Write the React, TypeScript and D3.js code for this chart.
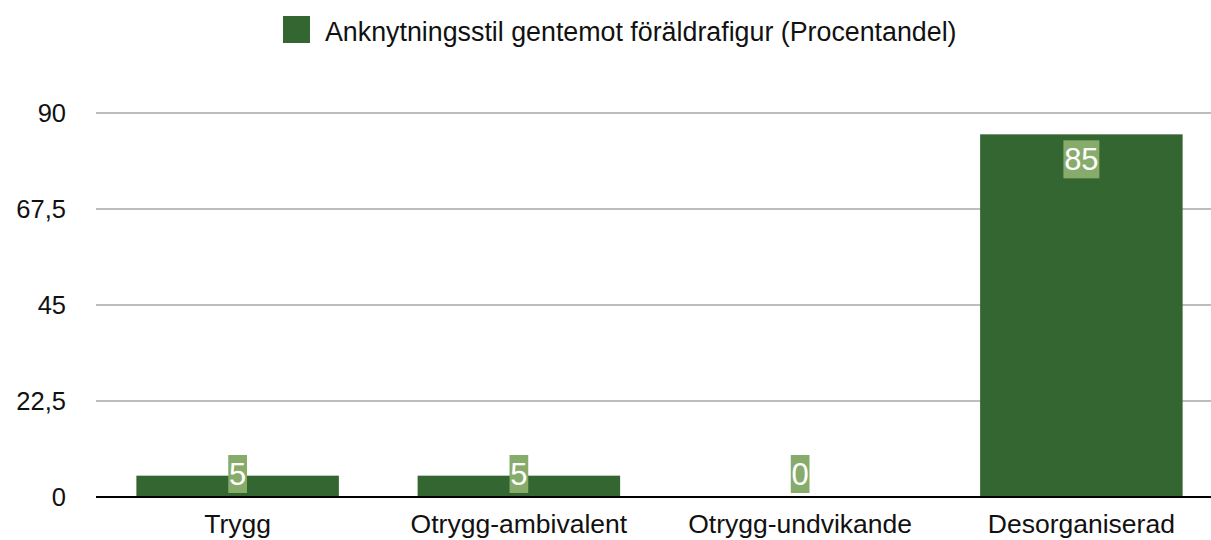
import React from "react";
import * as d3 from "d3";

const categories = ["Trygg", "Otrygg-ambivalent", "Otrygg-undvikande", "Desorganiserad"];
const values = [5, 5, 0, 85];
const yTicks = [0, 22.5, 45, 67.5, 90];
const seriesName = "Anknytningsstil gentemot föräldrafigur (Procentandel)";

const W = 1211;
const H = 540;
const FONT = "'Liberation Sans', Arial, Helvetica, sans-serif";
const BAR = "#336630";
const LABEL_BG = "#87ab6b";

export default function App() {
  const x = d3.scaleBand<string>().domain(categories).range([97, 1222]).paddingInner(0.28).paddingOuter(0.14);
  const y = d3.scaleLinear().domain([0, 90]).range([497, 113]);
  const fmt = (v: number) => String(v).replace(".", ",");
  const lfs = 31;

  return (
    <svg width={W} height={H} style={{ position: "absolute", left: 0, top: 0 }} fontFamily={FONT}>
      <rect x={0} y={0} width={W} height={H} fill="#fff" />
      {/* legend */}
      <rect x={283} y={16} width={27} height={27} fill={BAR} />
      <text x={325} y={41} fontSize={26.8} fill="#111">{seriesName}</text>
      {/* grid */}
      {yTicks.map((t) => (
        <g key={t}>
          {t !== 0 && <line x1={96} x2={W} y1={y(t)} y2={y(t)} stroke="#bdbdbd" strokeWidth={2} />}
          <text x={66} y={y(t)} dy="0.35em" textAnchor="end" fontSize={25.5} fill="#111">{fmt(t)}</text>
        </g>
      ))}
      {/* bars */}
      {categories.map((c, i) => {
        const v = values[i];
        const bx = x(c)!;
        return (
          <rect key={c} x={bx} y={y(v)} width={x.bandwidth()} height={y(0) - y(v)} fill={BAR} />
        );
      })}
      <line x1={96} x2={W} y1={y(0)} y2={y(0)} stroke="#000" strokeWidth={2} />
      {/* data labels */}
      {categories.map((c, i) => {
        const v = values[i];
        const cx = x(c)! + x.bandwidth() / 2;
        const label = fmt(v);
        const bw = label.length * 0.556 * lfs + 1.5;
        const top = Math.min(y(v) + 6, 455);
        return (
          <g key={c + "l"}>
            <rect x={cx - bw / 2} y={top} width={bw} height={38} fill={LABEL_BG} />
            <text x={cx} y={top + 30} textAnchor="middle" fontSize={lfs} fill="#fff">{label}</text>
          </g>
        );
      })}
      {/* x labels */}
      {categories.map((c) => (
        <text key={c + "x"} x={x(c)! + x.bandwidth() / 2} y={533} textAnchor="middle" fontSize={26.5} fill="#111">{c}</text>
      ))}
    </svg>
  );
}
